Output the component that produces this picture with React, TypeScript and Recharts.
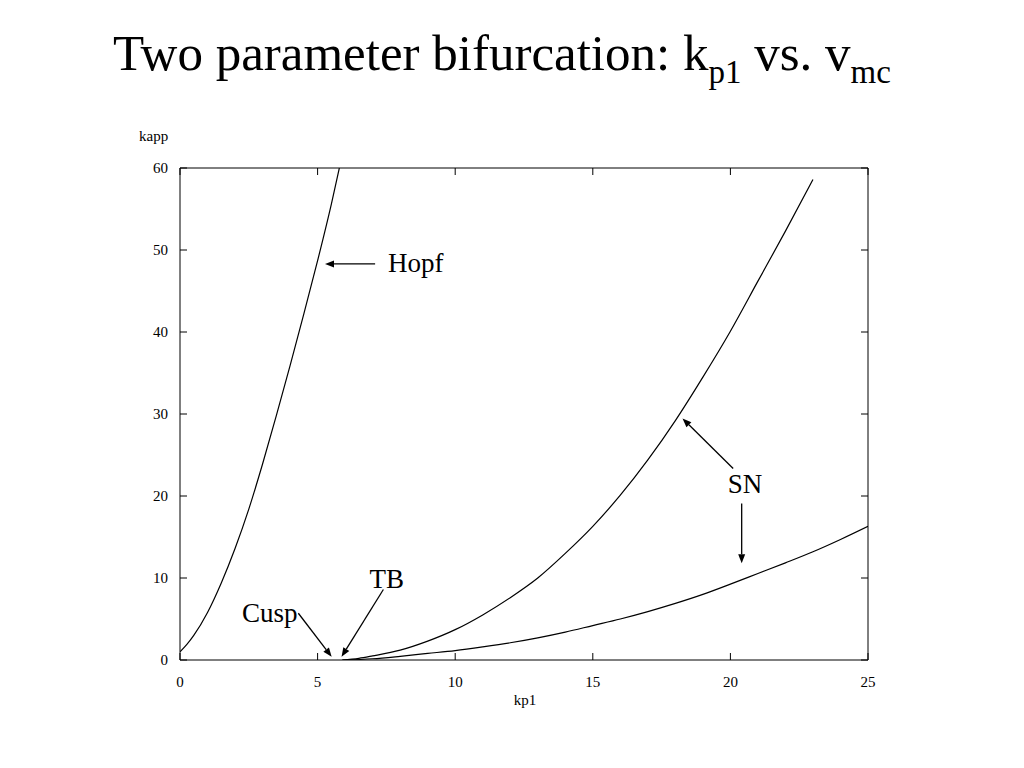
import React from "react";
import { LineChart, Line, XAxis, YAxis, ReferenceLine, ReferenceDot } from "recharts";

const FONT = "'Liberation Serif', 'Times New Roman', serif";

// axis ticks
const xTicks = [0, 5, 10, 15, 20, 25];
const yTicks = [0, 10, 20, 30, 40, 50, 60];

// Hopf branch
const hopfX = [0, 0.25, 0.5, 1, 1.5, 2, 2.5, 3, 3.5, 4, 4.5, 5, 5.5, 5.79];
const hopfY = [1.0, 1.9, 3.0, 5.8, 9.4, 13.6, 18.4, 23.9, 29.8, 35.9, 42.2, 48.7, 55.6, 60];

// upper saddle-node branch
const snUpperX = [5.9, 6.5, 7, 8, 9, 10, 11, 12, 13, 14, 15, 16, 17, 18, 19, 20, 21, 22, 23];
const snUpperY = [0, 0.2, 0.5, 1.2, 2.3, 3.7, 5.5, 7.6, 10.0, 13.0, 16.3, 20.1, 24.4, 29.2, 34.5, 40.1, 46.2, 52.3, 58.6];

// lower saddle-node branch
const snLowerX = [5.9, 7, 8, 9, 10, 11, 12, 13, 14, 15, 16, 17, 18, 19, 20, 21, 22, 23, 24, 25];
const snLowerY = [0, 0.15, 0.45, 0.8, 1.15, 1.6, 2.1, 2.7, 3.4, 4.2, 5.0, 5.9, 6.9, 8.0, 9.25, 10.55, 11.85, 13.2, 14.7, 16.3];

const toPoints = (xs: number[], ys: number[]) => xs.map((x, i) => ({ x, y: ys[i] }));

const hopfData = toPoints(hopfX, hopfY);
const snUpperData = toPoints(snUpperX, snUpperY);
const snLowerData = toPoints(snLowerX, snLowerY);

const TICK_LEN = 7;

// tick label below axis + inward tick mark
function BottomTick(props: any) {
  const { x, y, payload } = props;
  const axisY = y - 16;
  return (
    <g>
      <line x1={x} x2={x} y1={axisY} y2={axisY - TICK_LEN} stroke="#000" />
      <text x={x} y={y} dy="0.71em" textAnchor="middle" fontSize={15} fontFamily={FONT} fill="#000">
        {payload.value}
      </text>
    </g>
  );
}

function LeftTick(props: any) {
  const { x, y, payload } = props;
  const axisX = x + 12;
  return (
    <g>
      <line x1={axisX} x2={axisX + TICK_LEN} y1={y} y2={y} stroke="#000" />
      <text x={x} y={y} dy="0.355em" textAnchor="end" fontSize={15} fontFamily={FONT} fill="#000">
        {payload.value}
      </text>
    </g>
  );
}

function TopTick(props: any) {
  const { x, y } = props;
  return <line x1={x} x2={x} y1={y} y2={y + TICK_LEN} stroke="#000" />;
}

function RightTick(props: any) {
  const { x, y } = props;
  return <line x1={x} x2={x - TICK_LEN} y1={y} y2={y} stroke="#000" />;
}

function Arrow(props: any) {
  const { x1, y1, x2, y2 } = props;
  const a = Math.atan2(y2 - y1, x2 - x1);
  const L = 9;
  const W = 3.5;
  const bx = x2 - L * Math.cos(a);
  const by = y2 - L * Math.sin(a);
  const px = -Math.sin(a) * W;
  const py = Math.cos(a) * W;
  return (
    <g>
      <line x1={x1} y1={y1} x2={bx} y2={by} stroke="#000" strokeWidth={1.3} />
      <polygon points={`${x2},${y2} ${bx + px},${by + py} ${bx - px},${by - py}`} fill="#000" />
    </g>
  );
}

const makeLabel = (text: string, anchor: string) => (p: any) => (
  <text x={p.cx} y={p.cy} textAnchor={anchor} fontSize={27} fontFamily={FONT} fill="#000">
    {text}
  </text>
);

export default function App() {
  return (
    <div style={{ position: "absolute", left: 0, top: 0, width: 1024, height: 768, background: "#fff" }}>
      <svg width={1024} height={768} style={{ position: "absolute", left: 0, top: 0 }}>
        <text x={113} y={70} fontSize={51} fontFamily={FONT} fill="#000">
          Two parameter bifurcation: k
          <tspan fontSize={33} dy={13}>p1</tspan>
          <tspan fontSize={51} dy={-13}> vs. v</tspan>
          <tspan fontSize={33} dy={13}>mc</tspan>
        </text>
        <text x={139} y={141} fontSize={15} fontFamily={FONT} fill="#000">kapp</text>
        <text x={525} y={705} fontSize={15} textAnchor="middle" fontFamily={FONT} fill="#000">kp1</text>
      </svg>
      <div style={{ position: "absolute", left: 0, top: 0 }}>
        <LineChart width={1024} height={768} margin={{ top: 163, right: 151, bottom: 78, left: 120 }}>
          <XAxis
            type="number"
            dataKey="x"
            domain={[0, 25]}
            ticks={xTicks}
            allowDataOverflow
            height={30}
            tickSize={0}
            tickMargin={16}
            tickLine={false}
            axisLine={{ stroke: "#000" }}
            tick={<BottomTick />}
          />
          <XAxis
            xAxisId="top"
            orientation="top"
            type="number"
            dataKey="x"
            domain={[0, 25]}
            ticks={xTicks}
            allowDataOverflow
            height={5}
            tickSize={0}
            tickMargin={0}
            tickLine={false}
            axisLine={{ stroke: "#000" }}
            tick={<TopTick />}
          />
          <YAxis
            type="number"
            domain={[0, 60]}
            ticks={yTicks}
            allowDataOverflow
            width={60}
            tickSize={0}
            tickMargin={12}
            tickLine={false}
            axisLine={{ stroke: "#000" }}
            tick={<LeftTick />}
          />
          <YAxis
            yAxisId="right"
            orientation="right"
            type="number"
            domain={[0, 60]}
            ticks={yTicks}
            allowDataOverflow
            width={5}
            tickSize={0}
            tickMargin={0}
            tickLine={false}
            axisLine={{ stroke: "#000" }}
            tick={<RightTick />}
          />

          <Line data={hopfData} dataKey="y" type="monotone" stroke="#000" strokeWidth={1.2} dot={false} isAnimationActive={false} />
          <Line data={snUpperData} dataKey="y" type="monotone" stroke="#000" strokeWidth={1.2} dot={false} isAnimationActive={false} />
          <Line data={snLowerData} dataKey="y" type="monotone" stroke="#000" strokeWidth={1.2} dot={false} isAnimationActive={false} />

          {/* annotation arrows */}
          <ReferenceLine segment={[{ x: 7.09, y: 48.3 }, { x: 5.27, y: 48.3 }]} shape={Arrow} />
          <ReferenceLine segment={[{ x: 20.1, y: 23.35 }, { x: 18.26, y: 29.45 }]} shape={Arrow} />
          <ReferenceLine segment={[{ x: 20.41, y: 19.1 }, { x: 20.41, y: 11.8 }]} shape={Arrow} />
          <ReferenceLine segment={[{ x: 7.39, y: 8.6 }, { x: 5.87, y: 0.4 }]} shape={Arrow} />
          <ReferenceLine segment={[{ x: 4.3, y: 5.7 }, { x: 5.51, y: 0.4 }]} shape={Arrow} />

          {/* annotation text */}
          <ReferenceDot x={7.56} y={47.3} shape={makeLabel("Hopf", "start")} />
          <ReferenceDot x={20.53} y={20.33} shape={makeLabel("SN", "middle")} />
          <ReferenceDot x={7.51} y={8.74} shape={makeLabel("TB", "middle")} />
          <ReferenceDot x={2.25} y={4.67} shape={makeLabel("Cusp", "start")} />
        </LineChart>
      </div>
    </div>
  );
}
